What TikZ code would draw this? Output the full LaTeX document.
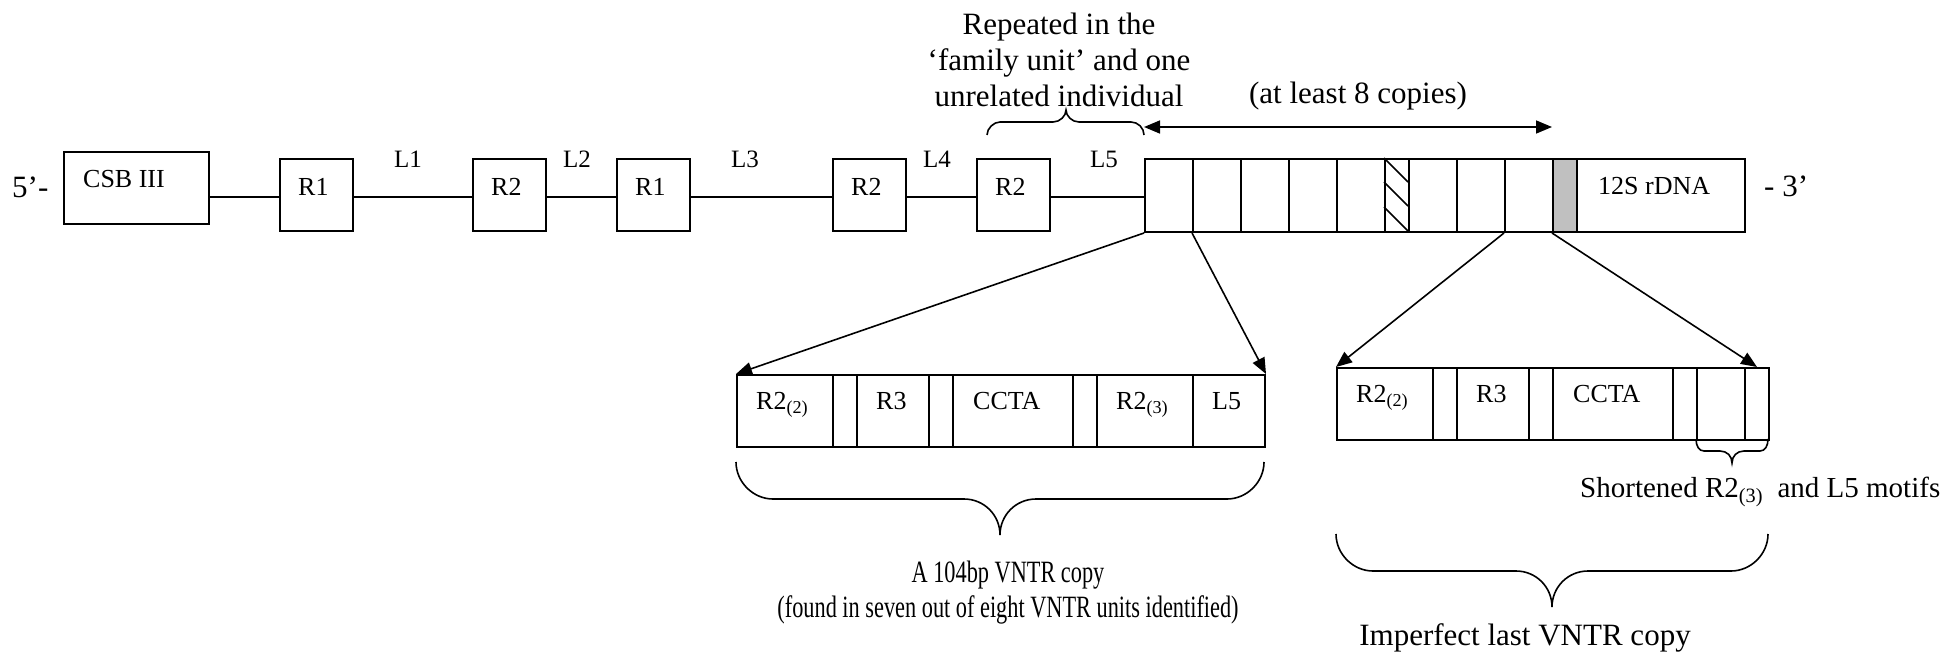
\documentclass[tikz,border=0pt]{standalone}
\usepackage{fontspec}
\setmainfont{Liberation Serif}
\usetikzlibrary{calc,arrows.meta}
\definecolor{cellgrey}{RGB}{192,192,192}

\begin{document}
\begin{tikzpicture}[x=1pt,y=-1pt,
  ln/.style={line width=2pt},
  cell/.style={draw, line width=2pt, rectangle, inner sep=0pt, anchor=north west},
  lbl/.style={inner sep=0pt, anchor=base west, font=\fontsize{26}{30}\selectfont},
  llbl/.style={inner sep=0pt, anchor=base, font=\fontsize{25}{30}\selectfont},
  note/.style={inner sep=0pt, font=\fontsize{31}{36}\selectfont},
  arr/.style={line width=1.6pt, -{Triangle[length=16pt,width=13pt]}},
  brace/.style={line width=1.6pt},
]
\fill[white] (0,0) rectangle (1959,653);
\useasboundingbox (0,0) rectangle (1959,653);

% ---------- main strand ----------
\node[cell, minimum width=145pt, minimum height=72pt] (csb) at (63,151) {};
\node[cell, minimum width=73pt, minimum height=72pt] (ra) at (279,158) {};
\node[cell, minimum width=73pt, minimum height=72pt] (rb) at (472,158) {};
\node[cell, minimum width=73pt, minimum height=72pt] (rc) at (616,158) {};
\node[cell, minimum width=73pt, minimum height=72pt] (rd) at (832,158) {};
\node[cell, minimum width=73pt, minimum height=72pt] (re) at (976,158) {};

% VNTR array and 12S rDNA
\node[cell, minimum width=48pt, minimum height=73pt] (v1) at (1144,158) {};
\node[cell, minimum width=48pt, minimum height=73pt] (v2) at (1192,158) {};
\node[cell, minimum width=48pt, minimum height=73pt] (v3) at (1240,158) {};
\node[cell, minimum width=48pt, minimum height=73pt] (v4) at (1288,158) {};
\node[cell, minimum width=48pt, minimum height=73pt] (v5) at (1336,158) {};
\node[cell, minimum width=24pt, minimum height=73pt] (hatch) at (1384,158) {};
\node[cell, minimum width=48pt, minimum height=73pt] (v6) at (1408,158) {};
\node[cell, minimum width=48pt, minimum height=73pt] (v7) at (1456,158) {};
\node[cell, minimum width=48pt, minimum height=73pt] (v8) at (1504,158) {};
\node[cell, fill=cellgrey, minimum width=24pt, minimum height=73pt] (grey) at (1552,158) {};
\node[cell, minimum width=168pt, minimum height=73pt] (rdna) at (1576,158) {};

\draw[line width=1.6pt]
  (hatch.north west) -- ++(24,24)
  ($(hatch.north west)+(0,24)$) -- ++(24,24)
  ($(hatch.north west)+(0,49)$) -- ++(24,24);

% box labels
\node[lbl] (tcsb) at ($(csb.north west)+(20,36)$) {CSB III};
\node[lbl] (tra) at ($(ra.north west)+(19,37)$) {R1};
\node[lbl] (trb) at ($(rb.north west)+(19,37)$) {R2};
\node[lbl] (trc) at ($(rc.north west)+(19,37)$) {R1};
\node[lbl] (trd) at ($(rd.north west)+(19,37)$) {R2};
\node[lbl] (tre) at ($(re.north west)+(19,37)$) {R2};
\node[lbl] (trdna) at ($(rdna.north west)+(22,36)$) {12S rDNA};

% linkers
\coordinate (axis) at (0,197);
\draw[ln] (csb.east |- axis) -- (ra.west |- axis);
\draw[ln] (ra.east |- axis) -- (rb.west |- axis);
\draw[ln] (rb.east |- axis) -- (rc.west |- axis);
\draw[ln] (rc.east |- axis) -- (rd.west |- axis);
\draw[ln] (rd.east |- axis) -- (re.west |- axis);
\draw[ln] (re.east |- axis) -- (v1.west |- axis);

\node[llbl] (l1) at (408,167) {L1};
\node[llbl] (l2) at (577,167) {L2};
\node[llbl] (l3) at (745,167) {L3};
\node[llbl] (l4) at (937,167) {L4};
\node[llbl] (l5) at (1104,167) {L5};

\node[note, anchor=base west] (five) at (12,197) {5’-};
\node[note, anchor=base west] (three) at (1764,196) {- 3’};

% repeated R2 brace and note
\draw[brace] (987,135) .. controls (987,128) and (994,122) .. (1000,122) -- (1053,122)
  .. controls (1060,122) and (1066,116) .. (1066,110)
  .. controls (1066,116) and (1072,122) .. (1079,122) -- (1131,122)
  .. controls (1138,122) and (1144,128) .. (1144,135);
\node[note, align=center, anchor=base] (rep) at (1059,106)
  {Repeated in the\\‘family unit’ and one\\unrelated individual};

% copy number
\coordinate (cpl) at (1144,127);
\coordinate (cpr) at (1552,127);
\draw[line width=1.6pt, {Triangle[length=16pt,width=13pt]}-{Triangle[length=16pt,width=13pt]}] (cpl) -- (cpr);
\node[note, anchor=base] (copies) at (1358,103) {(at least 8 copies)};

% ---------- complete VNTR unit ----------
\node[cell, minimum width=96pt, minimum height=72pt] (p1) at (736,374) {};
\node[cell, minimum width=24pt, minimum height=72pt] (p2) at (832,374) {};
\node[cell, minimum width=72pt, minimum height=72pt] (p3) at (856,374) {};
\node[cell, minimum width=24pt, minimum height=72pt] (p4) at (928,374) {};
\node[cell, minimum width=120pt, minimum height=72pt] (p5) at (952,374) {};
\node[cell, minimum width=24pt, minimum height=72pt] (p6) at (1072,374) {};
\node[cell, minimum width=96pt, minimum height=72pt] (p7) at (1096,374) {};
\node[cell, minimum width=72pt, minimum height=72pt] (p8) at (1192,374) {};
\node[lbl] (tp1) at ($(p1.north west)+(20,35)$) {R2\textsubscript{(2)}};
\node[lbl] (tp3) at ($(p3.north west)+(20,35)$) {R3};
\node[lbl] (tp5) at ($(p5.north west)+(21,35)$) {CCTA};
\node[lbl] (tp7) at ($(p7.north west)+(20,35)$) {R2\textsubscript{(3)}};
\node[lbl] (tp8) at ($(p8.north west)+(20,35)$) {L5};

% ---------- last, imperfect VNTR unit ----------
\node[cell, minimum width=96pt, minimum height=72pt] (q1) at (1336,367) {};
\node[cell, minimum width=24pt, minimum height=72pt] (q2) at (1432,367) {};
\node[cell, minimum width=72pt, minimum height=72pt] (q3) at (1456,367) {};
\node[cell, minimum width=24pt, minimum height=72pt] (q4) at (1528,367) {};
\node[cell, minimum width=120pt, minimum height=72pt] (q5) at (1552,367) {};
\node[cell, minimum width=24pt, minimum height=72pt] (q6) at (1672,367) {};
\node[cell, minimum width=48pt, minimum height=72pt] (q7) at (1696,367) {};
\node[cell, minimum width=24pt, minimum height=72pt] (q8) at (1744,367) {};
\node[lbl] (tq1) at ($(q1.north west)+(20,35)$) {R2\textsubscript{(2)}};
\node[lbl] (tq3) at ($(q3.north west)+(20,35)$) {R3};
\node[lbl] (tq5) at ($(q5.north west)+(21,35)$) {CCTA};

% expansion arrows
\draw[arr] (v1.south west) -- (p1.north west);
\draw[arr] (v2.south west) -- (p8.north east);
\draw[arr] (v8.south west) -- (q1.north west);
\draw[arr] (grey.south west) -- (q8.north);

% braces under the units
\draw[brace] (736,462) .. controls (736,482) and (753,499) .. (773,499) -- (964,499)
  .. controls (984,499) and (1000,515) .. (1000,535)
  .. controls (1000,515) and (1016,499) .. (1036,499) -- (1227,499)
  .. controls (1247,499) and (1264,482) .. (1264,462);
\node[note, align=center, anchor=base, font=\fontsize{31}{35}\selectfont,
      xscale=0.72, transform shape] (vntr) at (1008,617)
  {A 104bp VNTR copy\\(found in seven out of eight VNTR units identified)};

\draw[brace] (1696,439) .. controls (1696,446) and (1699,451) .. (1704,451) -- (1720,451)
  .. controls (1727,451) and (1732,456) .. (1732,463)
  .. controls (1732,456) and (1737,451) .. (1744,451) -- (1760,451)
  .. controls (1765,451) and (1768,446) .. (1768,439);
\node[note, anchor=base west, font=\fontsize{29}{35}\selectfont] (short) at (1580,497)
  {Shortened R2\textsubscript{(3)}\ \ and L5 motifs};

\draw[brace] (1336,534) .. controls (1336,554) and (1353,571) .. (1373,571) -- (1516,571)
  .. controls (1536,571) and (1552,587) .. (1552,607)
  .. controls (1552,587) and (1568,571) .. (1588,571) -- (1731,571)
  .. controls (1751,571) and (1768,554) .. (1768,534);
\node[note, anchor=base] (last) at (1525,645) {Imperfect last VNTR copy};
\end{tikzpicture}
\end{document}
